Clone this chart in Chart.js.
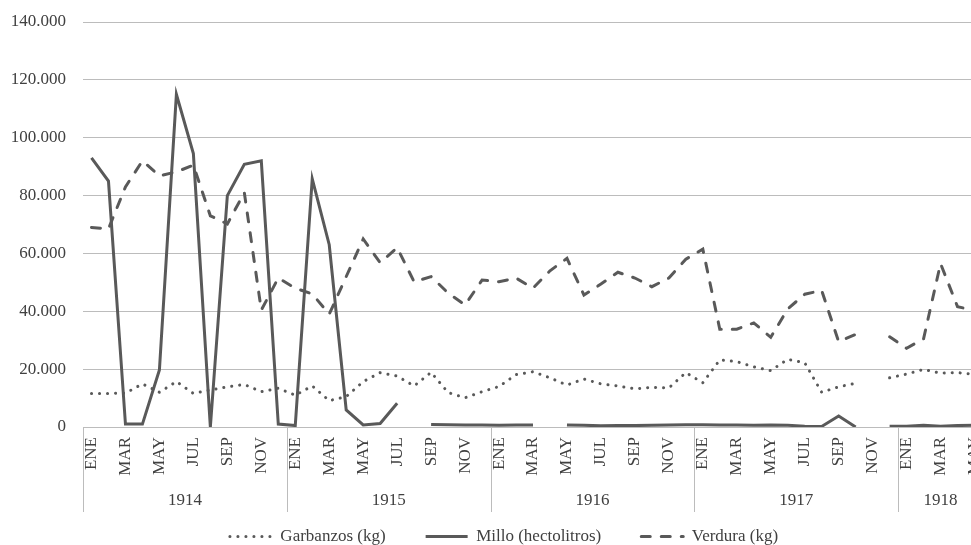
<!DOCTYPE html>
<html>
<head>
<meta charset="utf-8">
<script src="https://cdn.jsdelivr.net/npm/chart.js@4/dist/chart.umd.min.js"></script>
<style>
  html, body { margin: 0; padding: 0; background: #fff; }
  #frame { width: 971px; height: 545px; overflow: hidden; position: relative; }
  #inner { width: 1000px; height: 555px; position: relative; }
</style>
</head>
<body>
<div id="frame"><div id="inner"><canvas id="chart"></canvas></div></div>
<script>
const years = ['1914', '1915', '1916', '1917', '1918']
const months = ['ENE', 'FEB', 'MAR', 'ABR', 'MAY', 'JUN', 'JUL', 'AGO', 'SEP', 'OCT', 'NOV', 'DIC']
const monthsLastYear = 5

// one value per month, ENE 1914 .. MAY 1918 (null = no data)
const garbanzos = [
  11600, 11600, 11700, 14900, 12000, 15700, 11600, 12800, 13900, 14700, 12200, 13400,
  11000, 14200, 9100, 10500, 15700, 18800, 17600, 14200, 18900, 11900, 10100, 12200,
  14000, 18100, 19100, 17000, 14500, 16600, 14900, 14200, 13200, 13700, 13500, 18800,
  15300, 23200, 22600, 20800, 19500, 23400, 22200, 12000, 13900, 15100, null, 17000,
  18300, 19900, 18600, 18800, 18200
]
const millo = [
  93000, 85000, 1000, 1000, 19700, 115000, 94500, 0, 80000, 90800, 92000, 1000,
  500, 85800, 63000, 5900, 700, 1200, 8200, null, 900, 800, 700, 700,
  600, 700, 700, null, 700, 600, 400, 500, 500, 600, 700, 800,
  800, 700, 700, 600, 700, 600, 300, 200, 3800, 0, null, 300,
  300, 600, 300, 500, 600
]
const verdura = [
  69000, 68500, 83000, 92000, 86800, 88200, 90500, 73000, 70200, 81000, 40400, 51500,
  48000, 46000, 39000, 52000, 65000, 56800, 62000, 50200, 52000, 46300, 42200, 50800,
  50200, 51500, 48000, 54000, 58300, 45600, 49400, 53500, 51500, 48500, 51500, 58000,
  61500, 33800, 33800, 36000, 31000, 40800, 45900, 47200, 29500, 32000, null, 31200,
  27200, 30500, 56500, 41600, 40300
]

const labels = []
years.forEach((y, k) => {
  const n = k === years.length - 1 ? monthsLastYear : 12
  for (let m = 0; m < n; m++) labels.push(months[m])
})

const lineColor = '#595959'
const gridColor = '#bcbcbc'
const textColor = '#404040'
const font = { family: '"Liberation Serif", "Times New Roman", serif', size: 17 }

function thousands(v) {
  return String(v).replace(/\B(?=(\d{3})+(?!\d))/g, '.')
}

// year row under the month labels, with separators like Excel's multi-level axis
const yearGroups = {
  id: 'yearGroups',
  afterDraw(chart) {
    const x = chart.scales.x
    const ctx = chart.ctx
    const band = x.getPixelForValue(1) - x.getPixelForValue(0)
    const top = chart.chartArea.bottom
    ctx.save()
    ctx.strokeStyle = gridColor
    ctx.lineWidth = 1
    ctx.fillStyle = textColor
    ctx.font = font.size + 'px ' + font.family
    ctx.textAlign = 'center'
    ctx.textBaseline = 'middle'
    let start = 0
    years.forEach((y, k) => {
      const n = k === years.length - 1 ? monthsLastYear : 12
      const x0 = x.getPixelForValue(start) - band / 2
      const x1 = x.getPixelForValue(start + n - 1) + band / 2
      const px = Math.round(x0) + 0.5
      ctx.beginPath()
      ctx.moveTo(px, top)
      ctx.lineTo(px, top + 85)
      ctx.stroke()
      ctx.fillText(y, (x0 + x1) / 2, top + 74)
      start += n
    })
    ctx.restore()
  }
}

new Chart('chart', {
  type: 'line',
  data: {
    labels: labels,
    datasets: [{
      label: 'Garbanzos (kg)',
      data: garbanzos,
      borderColor: lineColor,
      backgroundColor: lineColor,
      borderWidth: 3,
      borderDash: [0.1, 7.9],
      borderCapStyle: 'round',
      pointRadius: 0,
      tension: 0
    }, {
      label: 'Millo (hectolitros)',
      data: millo,
      borderColor: lineColor,
      backgroundColor: lineColor,
      borderWidth: 3,
      borderCapStyle: 'butt',
      pointRadius: 0,
      tension: 0
    }, {
      label: 'Verdura (kg)',
      data: verdura,
      borderColor: lineColor,
      backgroundColor: lineColor,
      borderWidth: 3,
      borderDash: [9, 11],
      borderCapStyle: 'round',
      pointRadius: 0,
      tension: 0
    }]
  },
  options: {
    responsive: true,
    maintainAspectRatio: false,
    animation: false,
    spanGaps: false,
    layout: {
      padding: { left: 8, right: 0, top: 22, bottom: 0 }
    },
    scales: {
      x: {
        offset: true,
        // invisible tick marks keep the label gap without adding side padding
        grid: { color: 'rgba(0,0,0,0)', drawOnChartArea: false, drawTicks: true, tickLength: 10, tickColor: 'rgba(0,0,0,0)' },
        border: { display: false },
        ticks: {
          autoSkip: false,
          minRotation: 90,
          maxRotation: 90,
          padding: 0,
          color: textColor,
          font: font,
          callback: (v, i) => i % 2 === 0 ? labels[i] : ''
        },
        afterFit: scale => {
          const leg = scale.chart.legend
          scale.height = scale.chart.height - (leg ? leg.height : 67) - 427
        }
      },
      y: {
        min: 0,
        max: 140000,
        grid: { color: gridColor, drawTicks: true, tickLength: 12, tickColor: 'rgba(0,0,0,0)' },
        border: { display: false },
        ticks: {
          stepSize: 20000,
          padding: 5,
          color: textColor,
          font: font,
          callback: v => thousands(v)
        },
        afterFit: scale => { scale.width = 75 }
      },
      // empty strip on the right so the plot ends where the original's did
      spacer: {
        type: 'linear',
        position: 'right',
        grid: { display: false, drawTicks: false },
        border: { display: false },
        ticks: { display: false },
        afterFit: scale => { scale.width = 17 }
      }
    },
    plugins: {
      legend: {
        position: 'bottom',
        labels: {
          usePointStyle: true,
          pointStyle: 'line',
          pointStyleWidth: 42,
          padding: 40,
          color: textColor,
          font: font,
          // take dash, cap and width from the line itself, not from its points
          generateLabels: chart => {
            const items = Chart.defaults.plugins.legend.labels.generateLabels(chart)
            return items.map(item => {
              const ds = chart.data.datasets[item.datasetIndex]
              item.lineDash = ds.borderDash || []
              item.lineCap = ds.borderCapStyle || 'butt'
              item.lineWidth = ds.borderWidth
              item.strokeStyle = ds.borderColor
              return item
            })
          }
        }
      },
      tooltip: { enabled: false }
    }
  },
  plugins: [yearGroups]
})
</script>
</body>
</html>
